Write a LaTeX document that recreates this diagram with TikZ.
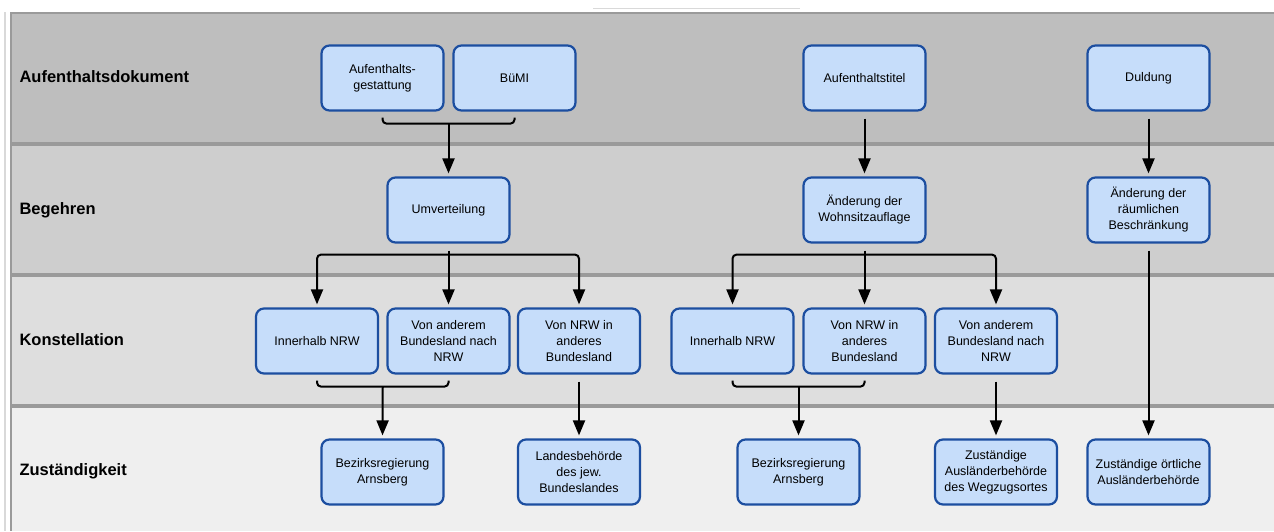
\documentclass[tikz,border=0pt]{standalone}
\usepackage{fontspec}
\setmainfont{Liberation Sans}
\usepackage{tikz}
\usetikzlibrary{arrows.meta, calc}
\definecolor{bandA}{HTML}{BEBEBE}
\definecolor{bandB}{HTML}{CECECE}
\definecolor{bandC}{HTML}{DEDEDE}
\definecolor{bandD}{HTML}{EFEFEF}
\definecolor{bandline}{HTML}{9A9A9A}
\definecolor{boxfill}{HTML}{C6DDFA}
\definecolor{boxdraw}{HTML}{1C4EA0}

\begin{document}
\begin{tikzpicture}[x=1pt, y=-1pt,
    box/.style={rectangle, rounded corners=8pt, draw=boxdraw, line width=2.2pt, fill=boxfill, minimum width=122pt, minimum height=65pt, inner sep=2pt, align=center, font=\fontsize{12.5}{16}\selectfont},
    rowlabel/.style={anchor=west, font=\fontsize{16.5}{20}\selectfont\bfseries},
    arrow/.style={-{Triangle[length=15pt, width=12pt]}, line width=2pt, shorten >=3pt},
    brace/.style={line width=2pt, rounded corners=4pt}
]
\useasboundingbox (0,0) rectangle (1274,531);

% Bands
\fill[bandA] (12,12) rectangle (1274,144);
\fill[bandB] (12,144) rectangle (1274,275);
\fill[bandC] (12,275) rectangle (1274,406);
\fill[bandD] (12,406) rectangle (1274,531);
\draw[bandline, line width=3.5pt] (12,144) -- (1274,144);
\draw[bandline, line width=3.5pt] (12,275) -- (1274,275);
\draw[bandline, line width=3.5pt] (12,406) -- (1274,406);
\draw[bandline, line width=2pt] (11,13) -- (1274,13);
\draw[bandline, line width=2pt] (11,12) -- (11,531);
\draw[gray!30, line width=2pt] (5,12) -- (5,531);
\draw[gray!30, line width=1pt] (593,8) -- (800,8);

% Row labels
\node[rowlabel] (dok) at (16,77) {Aufenthaltsdokument};
\node[rowlabel] (beg) at (16,210) {Begehren};
\node[rowlabel] (kon) at (16,340) {Konstellation};
\node[rowlabel] (zus) at (16,471) {Zuständigkeit};

% Aufenthaltsdokument
\node[box] (gest) at (382.5,78) {Aufenthalts-\\gestattung};
\node[box] (buemi) at (514.5,78) {BüMI};
\node[box] (titel) at (864.5,78) {Aufenthaltstitel};
\node[box] (duld) at (1148.5,78) {Duldung};

% Begehren
\node[box] (umv) at (448.5,210) {Umverteilung};
\node[box] (wohn) at (864.5,210) {Änderung der\\Wohnsitzauflage};
\node[box] (raeum) at (1148.5,210) {Änderung der\\räumlichen\\Beschränkung};

% Konstellation
\node[box] (innA) at (317,341) {Innerhalb NRW};
\node[box] (vonA) at (448.5,341) {Von anderem\\Bundesland nach\\NRW};
\node[box] (nrwA) at (579,341) {Von NRW in\\anderes\\Bundesland};
\node[box] (innB) at (732.5,341) {Innerhalb NRW};
\node[box] (nrwB) at (864.5,341) {Von NRW in\\anderes\\Bundesland};
\node[box] (vonB) at (996,341) {Von anderem\\Bundesland nach\\NRW};

% Zustaendigkeit
\node[box] (bezA) at (382.5,472) {Bezirksregierung\\Arnsberg};
\node[box] (land) at (579,472) {Landesbehörde\\des jew.\\Bundeslandes};
\node[box] (bezB) at (798.5,472) {Bezirksregierung\\Arnsberg};
\node[box] (wegz) at (996,472) {Zuständige\\Ausländerbehörde\\des Wegzugsortes};
\node[box] (oert) at (1148.5,472) {Zuständige örtliche\\Ausländerbehörde};

% Dokument -> Begehren
\coordinate (jA) at ($(gest.south)!0.5!(buemi.south)+(0,12)$);
\draw[brace] ($(gest.south)+(0,6)$) |- (jA) -| ($(buemi.south)+(0,6)$);
\draw[arrow] (jA) -- (umv.north);
\draw[arrow, shorten <=7pt] (titel.south) -- (wohn.north);
\draw[arrow, shorten <=7pt] (duld.south) -- (raeum.north);

% Begehren -> Konstellation
\coordinate (jB) at ($(umv.south)+(0,11)$);
\draw[arrow, shorten <=7pt] (umv.south) -- (vonA.north);
\draw[arrow, rounded corners=4pt] (jB) -| (innA.north);
\draw[arrow, rounded corners=4pt] (jB) -| (nrwA.north);
\coordinate (jC) at ($(wohn.south)+(0,11)$);
\draw[arrow, shorten <=7pt] (wohn.south) -- (nrwB.north);
\draw[arrow, rounded corners=4pt] (jC) -| (innB.north);
\draw[arrow, rounded corners=4pt] (jC) -| (vonB.north);
\draw[arrow, shorten <=7pt] (raeum.south) -- (oert.north);

% Konstellation -> Zustaendigkeit
\coordinate (jD) at ($(innA.south)!0.5!(vonA.south)+(0,12)$);
\draw[brace] ($(innA.south)+(0,6)$) |- (jD) -| ($(vonA.south)+(0,6)$);
\draw[arrow] (jD) -- (bezA.north);
\draw[arrow, shorten <=7pt] (nrwA.south) -- (land.north);
\coordinate (jE) at ($(innB.south)!0.5!(nrwB.south)+(0,12)$);
\draw[brace] ($(innB.south)+(0,6)$) |- (jE) -| ($(nrwB.south)+(0,6)$);
\draw[arrow] (jE) -- (bezB.north);
\draw[arrow, shorten <=7pt] (vonB.south) -- (wegz.north);

\end{tikzpicture}
\end{document}
